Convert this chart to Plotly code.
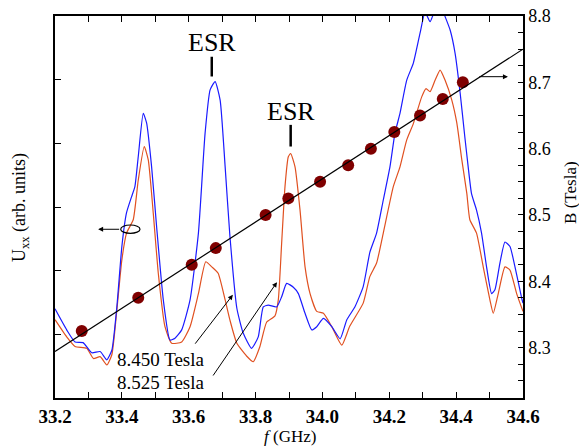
import plotly.graph_objects as go

# Blue curve (U_xx, arb. units) vs frequency (GHz)
blue_f = [33.200, 33.235, 33.260, 33.284, 33.310, 33.335, 33.355, 33.370, 33.385, 33.400,
          33.414, 33.429, 33.439, 33.449, 33.464, 33.474, 33.489, 33.504, 33.524, 33.544,
          33.559, 33.579, 33.604, 33.629, 33.649, 33.664, 33.679, 33.694, 33.709, 33.723,
          33.744, 33.763, 33.788, 33.808, 33.823, 33.838, 33.863, 33.878, 33.893, 33.913,
          33.928, 33.948, 33.968, 33.983, 34.003, 34.028, 34.053, 34.073, 34.097, 34.122,
          34.142, 34.162, 34.182, 34.202, 34.217, 34.232, 34.252, 34.272, 34.292, 34.307,
          34.322, 34.337, 34.352, 34.367, 34.382, 34.397, 34.412, 34.426, 34.436, 34.446,
          34.461, 34.476, 34.491, 34.506, 34.516, 34.531, 34.546, 34.561, 34.576, 34.596,
          34.600]
blue_u = [1.40, 1.07, 0.88, 0.87, 0.71, 0.73, 0.60, 0.75, 1.43, 2.38,
          2.91, 3.16, 3.32, 3.79, 4.47, 4.32, 3.63, 2.69, 1.54, 0.91,
          0.94, 1.07, 1.54, 2.59, 4.16, 4.84, 4.97, 4.68, 3.63, 2.56,
          1.41, 1.02, 0.78, 0.96, 1.43, 1.46, 1.43, 1.59, 1.80, 1.74,
          1.64, 1.33, 1.07, 1.12, 1.25, 1.12, 0.93, 1.23, 1.43, 1.75,
          2.29, 2.59, 3.11, 3.63, 4.16, 4.47, 4.99, 5.26, 5.73, 6.06,
          5.91, 6.10, 6.20, 5.99, 5.78, 5.41, 4.79, 4.10, 3.63, 3.21,
          2.95, 2.59, 2.06, 1.64, 1.70, 2.12, 2.45, 2.38, 2.06, 1.57,
          1.49]

# Orange curve
orange_f = [33.200, 33.235, 33.260, 33.295, 33.315, 33.335, 33.355, 33.370, 33.385, 33.400,
            33.414, 33.434, 33.449, 33.467, 33.479, 33.494, 33.509, 33.529, 33.549, 33.579,
            33.604, 33.629, 33.651, 33.669, 33.688, 33.709, 33.723, 33.744, 33.773, 33.793,
            33.813, 33.833, 33.858, 33.868, 33.878, 33.888, 33.898, 33.905, 33.918, 33.933,
            33.948, 33.963, 33.983, 34.003, 34.028, 34.058, 34.082, 34.122, 34.142, 34.162,
            34.182, 34.212, 34.232, 34.252, 34.272, 34.297, 34.310, 34.322, 34.337, 34.352,
            34.367, 34.387, 34.402, 34.417, 34.432, 34.441, 34.461, 34.481, 34.501, 34.511,
            34.526, 34.546, 34.561, 34.581, 34.600]
orange_u = [1.23, 0.96, 0.81, 0.78, 0.62, 0.65, 0.52, 0.68, 1.38, 2.17,
            2.59, 2.80, 3.42, 3.95, 3.74, 2.90, 1.96, 1.12, 0.86, 0.88,
            1.12, 1.64, 2.14, 2.06, 1.96, 1.54, 1.23, 0.86, 0.66, 0.57,
            0.81, 1.19, 1.29, 1.54, 2.43, 3.32, 3.79, 3.84, 3.63, 2.95,
            2.06, 1.64, 1.36, 1.33, 1.12, 0.83, 1.13, 1.49, 1.91, 2.12,
            2.59, 3.32, 3.63, 4.05, 4.31, 4.73, 4.86, 4.81, 4.99, 5.15,
            4.99, 4.68, 4.32, 3.74, 3.21, 2.80, 2.59, 2.06, 1.54, 1.33,
            1.64, 2.06, 2.01, 1.64, 1.36]

# Resonance field points B (Tesla) vs frequency
dot_f = [33.280, 33.449, 33.609, 33.681, 33.830, 33.898, 33.993, 34.077, 34.145,
         34.215, 34.292, 34.360, 34.420]
dot_b = [8.325, 8.375, 8.425, 8.450, 8.500, 8.525, 8.550, 8.575, 8.600,
         8.625, 8.650, 8.675, 8.700]

# Linear fit line
fit_f = [33.2, 34.6]
fit_b = [8.294, 8.750]

FONT = "Liberation Serif, DejaVu Serif, serif"

fig = go.Figure()
fig.add_trace(go.Scatter(x=dot_f, y=dot_b, mode="markers", yaxis="y2",
                         marker=dict(size=12, color="#7f0000"), showlegend=False))
fig.add_trace(go.Scatter(x=orange_f, y=orange_u, mode="lines",
                         line=dict(color="#e05020", width=1.2, shape="spline", smoothing=0.5),
                         showlegend=False))
fig.add_trace(go.Scatter(x=blue_f, y=blue_u, mode="lines",
                         line=dict(color="#1a1aff", width=1.2, shape="spline", smoothing=0.5),
                         showlegend=False))
fig.add_trace(go.Scatter(x=fit_f, y=fit_b, mode="lines", yaxis="y2",
                         line=dict(color="black", width=1.2), showlegend=False))

annotations = [
    dict(x=33.669, y=5.59, text="ESR", showarrow=False, font=dict(family=FONT, size=26, color="black")),
    dict(x=33.905, y=4.50, text="ESR", showarrow=False, font=dict(family=FONT, size=26, color="black")),
    dict(x=33.517, y=0.60, text="8.450 Tesla", showarrow=False, font=dict(family=FONT, size=19, color="black")),
    dict(x=33.517, y=0.24, text="8.525 Tesla", showarrow=False, font=dict(family=FONT, size=19, color="black")),
    # axis titles
    dict(xref="paper", yref="paper", x=1.1026, y=0.537, xanchor="center", yanchor="middle",
         text="B (Tesla)", textangle=-90,
         showarrow=False, font=dict(family=FONT, size=17, color="black")),
    dict(xref="paper", yref="paper", x=-0.0748, y=0.50, xanchor="center", yanchor="middle",
         text="U<sub>xx</sub> (arb. units)", textangle=-90,
         showarrow=False, font=dict(family=FONT, size=18, color="black")),
    dict(xref="paper", yref="paper", x=0.502, y=-0.102, xanchor="center", yanchor="middle",
         text="<i>f</i> (GHz)",
         showarrow=False, font=dict(family=FONT, size=17, color="black")),
    # arrows
    dict(x=33.732, y=1.62, ax=33.616, ay=0.83, xref="x", yref="y", axref="x", ayref="y",
         text="", showarrow=True, arrowhead=2, arrowsize=1, arrowwidth=1, arrowcolor="black"),
    dict(x=33.864, y=1.82, ax=33.670, ay=0.33, xref="x", yref="y", axref="x", ayref="y",
         text="", showarrow=True, arrowhead=2, arrowsize=1, arrowwidth=1, arrowcolor="black"),
    dict(x=33.329, y=2.65, ax=33.3965, ay=2.65, xref="x", yref="y", axref="x", ayref="y",
         text="", showarrow=True, arrowhead=2, arrowsize=1, arrowwidth=1, arrowcolor="black"),
    dict(x=34.555, y=8.7085, ax=34.465, ay=8.7085, xref="x", yref="y2", axref="x", ayref="y2",
         text="", showarrow=True, arrowhead=2, arrowsize=1, arrowwidth=1, arrowcolor="black"),
]

shapes = [
    dict(type="line", xref="x", yref="y", x0=33.669, x1=33.669, y0=5.05, y1=5.36,
         line=dict(color="black", width=2.5)),
    dict(type="line", xref="x", yref="y", x0=33.905, x1=33.905, y0=3.95, y1=4.29,
         line=dict(color="black", width=2.5)),
    dict(type="circle", xref="x", yref="y", x0=33.3965, x1=33.4543, y0=2.587, y1=2.717,
         line=dict(color="black", width=1.2)),
]

fig.update_layout(
    width=579, height=447,
    margin=dict(l=55, r=56, t=16, b=49, autoexpand=False),
    plot_bgcolor="white", paper_bgcolor="white",
    font=dict(family=FONT, color="black"),
    annotations=annotations, shapes=shapes,
    xaxis=dict(range=[33.2, 34.6], tick0=33.2, dtick=0.2, tickformat=".1f",
               ticks="inside", ticklen=6, tickwidth=1.2, tickcolor="black",
               minor=dict(dtick=0.1, ticks="inside", ticklen=4, tickcolor="black"),
               showline=True, linecolor="black", linewidth=1.5, mirror="allticks",
               showgrid=False, zeroline=False, automargin=False,
               tickfont=dict(family=FONT, size=19, color="black", weight="bold")),
    yaxis=dict(range=[0, 6], dtick=1, ticks="inside", ticklen=6, tickwidth=1.2, tickcolor="black",
               showticklabels=False, showline=True, linecolor="black", linewidth=1.5,
               showgrid=False, zeroline=False, automargin=False),
    yaxis2=dict(overlaying="y", side="right", range=[8.224, 8.8], tick0=8.3, dtick=0.1,
                tickformat=".1f", ticks="inside", ticklen=5, tickwidth=1, tickcolor="black",
                minor=dict(dtick=0.025, ticks="inside", ticklen=5, tickcolor="black"),
                showline=True, linecolor="black", linewidth=1.5,
                showgrid=False, zeroline=False, automargin=False,
                tickfont=dict(family=FONT, size=18, color="black")),
)

fig.write_html("out.html", config={"displayModeBar": False},
               post_script="document.body.style.margin='0';document.body.style.overflow='hidden';")
